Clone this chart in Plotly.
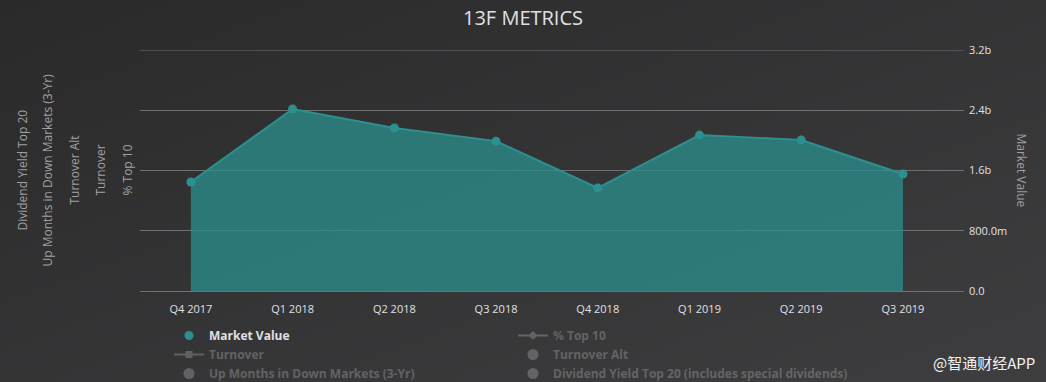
import base64
import plotly.graph_objects as go

quarters = ["Q4 2017", "Q1 2018", "Q2 2018", "Q3 2018", "Q4 2018", "Q1 2019", "Q2 2019", "Q3 2019"]
market_value = [1.447e9, 2.417e9, 2.164e9, 1.99e9, 1.368e9, 2.07e9, 2.005e9, 1.553e9]
pct_top10 = [None] * 8
turnover = [None] * 8
turnover_alt = [None] * 8
up_months = [None] * 8
div_yield = [None] * 8

y_tickvals = [0, 0.8e9, 1.6e9, 2.4e9, 3.2e9]
y_ticktext = ["0.0", "800.0m", "1.6b", "2.4b", "3.2b"]
y_max = 3.2e9

left_axis_titles = ["Dividend Yield Top 20", "Up Months in Down Markets (3-Yr)", "Turnover Alt", "Turnover", "% Top 10"]
left_axis_x_px = [22, 47, 74, 100, 127]

W, H = 1046, 382
ML, MR, MT, MB = 140, 82, 50, 91
PW, PH = W - ML - MR, H - MT - MB

TEAL = "#2b908f"
TXT = "#E0E0E3"
HID = "#8e8e90"
GRID = "#707073"
FONT = "Open Sans, DejaVu Sans, sans-serif"

fig = go.Figure()
# area + line (no legend entry)
fig.add_trace(go.Scatter(
    x=quarters, y=market_value, name="Market Value", mode="lines",
    line=dict(color=TEAL, width=2), fill="tozeroy", fillcolor="rgba(43,144,143,0.75)",
    showlegend=False, legendgroup="mv", hoverinfo="skip",
))
# point markers, carries the legend entry
fig.add_trace(go.Scatter(
    x=quarters, y=market_value, name="Market Value", mode="markers",
    marker=dict(size=9, color=TEAL), legend="legend", legendgroup="mv",
))
hidden = [
    ("% Top 10", pct_top10, "lines+markers", "diamond", "legend2"),
    ("Turnover", turnover, "lines+markers", "square", "legend"),
    ("Turnover Alt", turnover_alt, "markers", "circle", "legend2"),
    ("Up Months in Down Markets (3-Yr)", up_months, "markers", "circle", "legend"),
    ("Dividend Yield Top 20 (includes special dividends)", div_yield, "markers", "circle", "legend2"),
]
for name, vals, mode, sym, lg in hidden:
    fig.add_trace(go.Scatter(
        x=quarters, y=vals, name=f'<span style="color:{HID}">{name}</span>', mode=mode,
        line=dict(color=HID, width=2), marker=dict(symbol=sym, size=(7 if "lines" in mode else 11), color=HID),
        visible="legendonly", legend=lg,
    ))

svg = (f'<svg xmlns="http://www.w3.org/2000/svg" width="{W}" height="{H}">'
       '<defs><linearGradient id="g" x1="0" y1="0" x2="1" y2="1">'
       '<stop offset="0" stop-color="#2a2a2b"/><stop offset="1" stop-color="#3e3e40"/>'
       '</linearGradient></defs>'
       f'<rect width="{W}" height="{H}" fill="url(#g)"/></svg>')
src = "data:image/svg+xml;base64," + base64.b64encode(svg.encode()).decode()

annotations = []
for t, xp in zip(left_axis_titles, left_axis_x_px):
    annotations.append(dict(
        text=t, textangle=-90, xref="paper", yref="paper",
        x=(xp - ML) / PW, y=0.5, xanchor="center", yanchor="middle",
        showarrow=False, font=dict(family=FONT, size=12, color="#A0A0A3"),
    ))
annotations.append(dict(
    text="Market Value", textangle=90, xref="paper", yref="paper",
    x=(1021 - ML) / PW, y=0.5, xanchor="center", yanchor="middle",
    showarrow=False, font=dict(family=FONT, size=12, color="#A0A0A3"),
))
annotations.append(dict(
    text="@智通财经APP", xref="paper", yref="paper",
    x=(1037 - ML) / PW, y=(H - MB - 362) / PH, xanchor="right", yanchor="middle",
    showarrow=False, font=dict(family="Noto Sans CJK SC, sans-serif", size=15, color="#f2f2f2"),
))

LEG_TOP = 321
fig.update_layout(
    width=W, height=H,
    margin=dict(l=ML, r=MR, t=MT, b=MB, autoexpand=False),
    paper_bgcolor="#343435", plot_bgcolor="rgba(0,0,0,0)",
    images=[dict(source=src, xref="paper", yref="paper", x=-ML / PW, y=1 + MT / PH,
                 sizex=W / PW, sizey=H / PH, sizing="stretch", layer="below",
                 xanchor="left", yanchor="top")],
    shapes=[dict(type="line", xref="paper", yref="y", x0=0, x1=1, y0=y_max, y1=y_max,
                 line=dict(color=GRID, width=1), layer="below")],
    title=dict(text="13F METRICS", x=0.5, xref="container", xanchor="center", y=1 - 18 / H, yanchor="middle",
               font=dict(family=FONT, size=20, color=TXT)),
    font=dict(family=FONT, color=TXT),
    showlegend=True,
    legend=dict(x=(169 - ML) / PW, y=(H - MB - LEG_TOP) / PH, xanchor="left", yanchor="top",
                orientation="v", bgcolor="rgba(0,0,0,0)", itemsizing="trace", tracegroupgap=0,
                font=dict(family=FONT, size=12, color=TXT, weight="bold")),
    legend2=dict(x=(513 - ML) / PW, y=(H - MB - LEG_TOP) / PH, xanchor="left", yanchor="top",
                 orientation="v", bgcolor="rgba(0,0,0,0)", itemsizing="trace", tracegroupgap=0,
                 font=dict(family=FONT, size=12, color=TXT, weight="bold")),
    xaxis=dict(type="category", range=[-0.5, 7.6], showgrid=False, showline=True,
               linecolor=GRID, linewidth=1, ticks="", tickfont=dict(size=11, color=TXT),
               ticklabelstandoff=8, fixedrange=True),
    yaxis=dict(side="right", range=[0, y_max], tickvals=y_tickvals, ticktext=y_ticktext,
               showgrid=True, gridcolor=GRID, gridwidth=1, zeroline=False,
               tickfont=dict(size=11, color=TXT), ticks="", ticklabelstandoff=4, fixedrange=True),
    annotations=annotations,
)

fig.write_html("out.html", config={"displayModeBar": False},
               post_script="document.body.style.margin='0';document.body.style.padding='0';")
